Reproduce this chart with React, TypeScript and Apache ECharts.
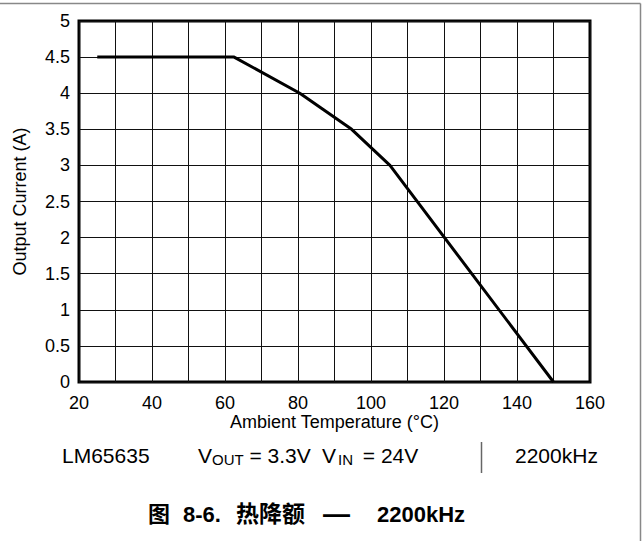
import React, { useEffect, useRef } from "react";
import * as echarts from "echarts";

const temperatures = [25, 62.5, 80.5, 94.7, 105.2, 150];
const currents = [4.5, 4.5, 4.0, 3.5, 3.0, 0];
const xTicks = { min: 20, max: 160, interval: 20 };
const yTicks = { min: 0, max: 5, interval: 0.5 };

const FONT = "'Liberation Sans', Arial, sans-serif";
const CJK = "'Liberation Sans', 'Noto Sans CJK SC', sans-serif";

export default function App() {
  const ref = useRef<HTMLDivElement>(null);
  useEffect(() => {
    if (!ref.current) return;
    const chart = echarts.init(ref.current, undefined, { renderer: "svg" });
    const data = temperatures.map((t, i) => [t, currents[i]]);
    const sub = { fontFamily: FONT, fontSize: 15, padding: [9, 0, 0, 0], fill: "#000" };
    const subIn = { fontFamily: FONT, fontSize: 15, padding: [9, 4, 0, 2], fill: "#000" };
    chart.setOption({
      animation: false,
      backgroundColor: "#ffffff",
      grid: {
        left: 79,
        top: 21,
        right: 54,
        bottom: 159,
        show: true,
        borderColor: "#000",
        borderWidth: 3,
        containLabel: false,
      },
      xAxis: {
        type: "value",
        min: xTicks.min,
        max: xTicks.max,
        interval: 10,
        name: "Ambient Temperature (°C)",
        nameLocation: "middle",
        nameGap: 31,
        nameMoveOverlap: false,
        nameTextStyle: { fontFamily: FONT, fontSize: 18, color: "#000", lineHeight: 18 },
        axisLine: { show: false },
        axisTick: { show: false },
        axisLabel: {
          fontFamily: FONT,
          fontSize: 18,
          lineHeight: 18,
          color: "#000",
          margin: 12,
          formatter: (v: number) => ((v - xTicks.min) % xTicks.interval === 0 ? String(v) : ""),
        },
        splitLine: { show: true, lineStyle: { color: "#111", width: 1 } },
      },
      yAxis: {
        type: "value",
        min: yTicks.min,
        max: yTicks.max,
        interval: yTicks.interval,
        name: "Output Current (A)",
        nameLocation: "middle",
        nameGap: 50,
        nameMoveOverlap: false,
        nameTextStyle: { fontFamily: FONT, fontSize: 18, color: "#000" },
        axisLine: { show: false },
        axisTick: { show: false },
        axisLabel: { fontFamily: FONT, fontSize: 18, color: "#000", margin: 9 },
        splitLine: { show: true, lineStyle: { color: "#111", width: 1 } },
      },
      series: [
        {
          type: "line",
          data,
          showSymbol: false,
          symbol: "none",
          lineStyle: { color: "#000", width: 3 },
          z: 5,
        },
      ],
      graphic: [
        { type: "line", shape: { x1: 0, y1: 3.5, x2: 640.5, y2: 3.5 }, style: { stroke: "#888", lineWidth: 1.5 } },
        { type: "line", shape: { x1: 640.5, y1: 3.5, x2: 640.5, y2: 541 }, style: { stroke: "#888", lineWidth: 1.5 } },
        { type: "line", shape: { x1: 481.5, y1: 442, x2: 481.5, y2: 473 }, style: { stroke: "#666", lineWidth: 1.5 } },
        {
          type: "text",
          x: 62,
          y: 455,
          style: { text: "LM65635", fontFamily: FONT, fontSize: 21, fill: "#000", verticalAlign: "middle" },
        },
        {
          type: "text",
          x: 198,
          y: 455,
          style: {
            text: "V{s|OUT} = 3.3V",
            fontFamily: FONT,
            fontSize: 21,
            fill: "#000",
            verticalAlign: "middle",
            rich: { s: sub },
          },
        },
        {
          type: "text",
          x: 322,
          y: 455,
          style: {
            text: "V{s|IN} = 24V",
            fontFamily: FONT,
            fontSize: 21,
            fill: "#000",
            verticalAlign: "middle",
            rich: { s: subIn },
          },
        },
        {
          type: "text",
          x: 515,
          y: 455,
          style: { text: "2200kHz", fontFamily: FONT, fontSize: 21, fill: "#000", verticalAlign: "middle" },
        },
        {
          type: "text",
          x: 148,
          y: 514,
          style: {
            text: "{a|图 }{b|8-6. }{c|热降额 }{d|— }{e|2200kHz}",
            fontFamily: CJK,
            fontSize: 22,
            fontWeight: "bold",
            fill: "#000",
            verticalAlign: "middle",
            rich: {
              a: { width: 35, fontFamily: CJK, fontSize: 22, fontWeight: "bold", fill: "#000" },
              b: { width: 53, fontFamily: CJK, fontSize: 22, fontWeight: "bold", fill: "#000" },
              c: { width: 87, fontFamily: CJK, fontSize: 23, fontWeight: "bold", fill: "#000" },
              d: { width: 54, fontFamily: CJK, fontSize: 27, fontWeight: "bold", fill: "#000" },
              e: { fontFamily: CJK, fontSize: 22, fontWeight: "bold", fill: "#000" },
            },
          },
        },
      ],
    });
    return () => chart.dispose();
  }, []);
  return (
    <div
      ref={ref}
      style={{ position: "absolute", left: 0, top: 0, width: 644, height: 541 }}
    />
  );
}
